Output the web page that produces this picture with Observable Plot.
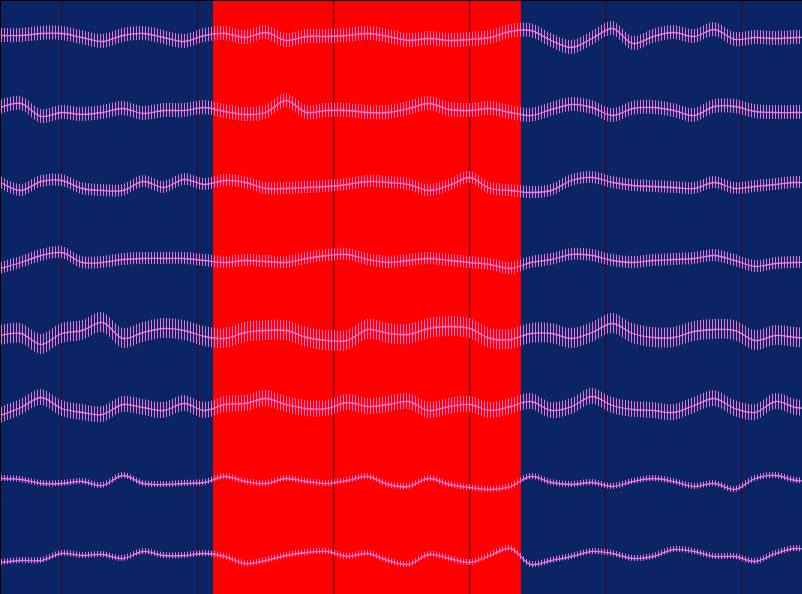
<!DOCTYPE html>
<html>
<head>
<meta charset="utf-8">
<script src="https://cdn.jsdelivr.net/npm/d3@7"></script>
<script src="https://cdn.jsdelivr.net/npm/@observablehq/plot@0.6"></script>
<style>
  html, body { margin: 0; padding: 0; background: #000; }
  #chart { position: absolute; left: 1px; top: 1px; width: 801px; height: 593px; overflow: hidden; }
  #chart svg { display: block; }
</style>
</head>
<body>
<div id="chart"></div>
<script>
// time in seconds (sample points of the slow wave)
const time = [0,0.15,0.3,0.45,0.6,0.75,0.9,1.05,1.2,1.35,1.5,1.65,1.8,1.95,2.1,2.25,2.4,2.55,2.7,2.85,3.0,3.15,3.3,3.45,3.6,3.75,3.9,4.05,4.2,4.35,4.5,4.65,4.8,4.95,5.1,5.25,5.4,5.55,5.7,5.85,6.0];
const channels = ["ch1","ch2","ch3","ch4","ch5","ch6","ch7","ch8"];
// deviations (µV, positive up) of each channel's slow wave
const ch1 = [2,2,4,4,0,-4,2,4,0,-4,2,4,0,5,-3,1,1,2,4,1,-3,-1,-3,-2,0,6,7,-3,-10,-1,9,-6,1,5,1,8,-2,0,-1,0,0];
const ch2 = [4,8,-5,-1,-3,-1,3,-2,1,1,4,0,-3,-1,11,-1,1,1,-1,-1,3,8,2,1,3,-1,-4,2,7,4,-4,3,4,1,-4,5,5,0,-1,-1,-1];
const ch3 = [3,-5,4,5,-3,-5,-5,4,-2,6,1,5,3,-3,-3,-2,-1,1,4,3,1,-5,0,8,-3,-5,-7,-5,5,8,3,0,-1,-2,-3,3,-3,-1,1,3,2];
const ch4 = [-9,-3,4,7,-3,-3,0,1,1,1,-1,-3,-1,-2,-3,1,4,5,0,-3,-1,1,-1,-3,-5,-9,-3,0,5,4,-1,-3,-1,0,1,4,-1,-7,-4,-3,-3];
const ch5 = [-2,0,-11,0,3,11,-5,1,5,3,-3,-5,1,3,3,-4,-7,-7,4,0,-1,5,7,5,-5,-6,0,0,-5,1,10,0,-4,-4,2,4,3,-7,-2,-4,-5];
const ch6 = [-8,0,10,-1,-5,-7,3,0,-3,4,-3,3,4,9,3,-1,-1,5,1,3,6,-3,1,3,-3,1,6,-3,1,11,2,-2,-3,-5,2,9,-1,-5,6,0,-1];
const ch7 = [3,2,-2,-2,0,-4,6,-2,-3,-2,-1,5,0,-2,3,0,-2,1,5,-3,-5,3,-3,-6,-8,-5,5,-1,-3,-1,-5,0,3,0,-5,-2,-8,3,6,1,1];
const ch8 = [-7,-5,-5,2,0,1,-3,4,0,0,2,-1,-8,-5,0,3,4,-1,2,-5,-9,1,-3,-7,0,7,-9,-5,-1,4,2,-3,-1,6,4,-1,-1,-6,2,7,3];
// half-width of the fast (spiky) activity for each channel, µV
const noiseAmp = [7,7,6,6,10,8,3,3];
// one-second markers and the highlighted event
const markers = [0.45,1.45,2.45,3.45,4.45,5.45];
const eventStart = 1.566, eventEnd = 3.83;
const channelSpacing = 74;

const series = [ch1,ch2,ch3,ch4,ch5,ch6,ch7,ch8];
const rows = [];
series.forEach((vals, k) => {
  vals.forEach((v, i) => {
    const base = -k * channelSpacing;
    rows.push({ch: channels[k], t: time[i], y: base + v, lo: base + v - noiseAmp[k], hi: base + v + noiseAmp[k]});
  });
});

const yTop = 36, yBottom = 36 - 593;
const pink = "#ff7fe2";

const chart = Plot.plot({
  width: 801,
  height: 593,
  margin: 0,
  x: {domain: [1/136, 802/136], axis: null},
  y: {domain: [yBottom, yTop], axis: null},
  style: {background: "#0b2465", overflow: "hidden"},
  marks: [
    Plot.rect([{x1: eventStart, x2: eventEnd}], {x1: "x1", x2: "x2", y1: yBottom, y2: yTop, fill: "#ff0000"}),
    Plot.ruleX(markers, {stroke: "#3a0a24", strokeWidth: 1}),
    Plot.areaY(rows, {x: "t", y1: "lo", y2: "hi", z: "ch", fill: "url(#spikes)", fillOpacity: 0.9, curve: "catmull-rom"}),
    Plot.line(rows, {x: "t", y: "y", z: "ch", stroke: pink, strokeWidth: 1.3, strokeOpacity: 0.9, curve: "catmull-rom"})
  ]
});
// vertical stripe texture for the fast activity band
const ns = "http://www.w3.org/2000/svg";
const defs = document.createElementNS(ns, "defs");
const pat = document.createElementNS(ns, "pattern");
pat.setAttribute("id", "spikes");
pat.setAttribute("patternUnits", "userSpaceOnUse");
pat.setAttribute("width", "3");
pat.setAttribute("height", "6");
const r = document.createElementNS(ns, "rect");
r.setAttribute("x", "0"); r.setAttribute("y", "0");
r.setAttribute("width", "1"); r.setAttribute("height", "6");
r.setAttribute("fill", pink);
pat.appendChild(r);
defs.appendChild(pat);
chart.insertBefore(defs, chart.firstChild);
document.getElementById("chart").appendChild(chart);
</script>
</body>
</html>
